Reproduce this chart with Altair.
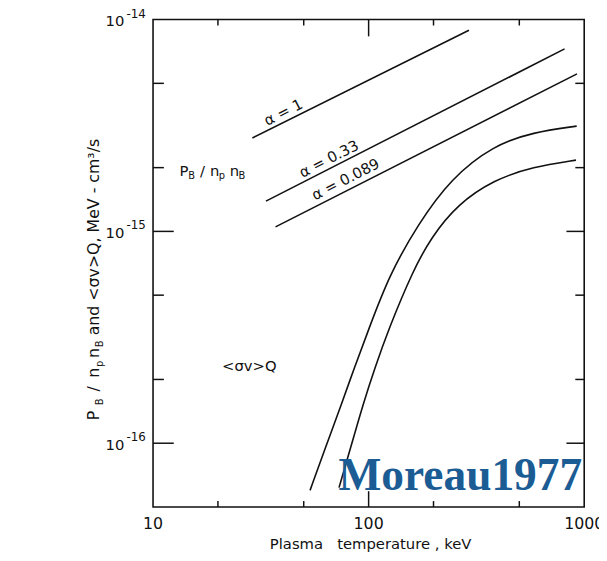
import altair as alt
import pandas as pd

# ---------------- data ----------------
T_alpha1 = [28.9, 292]
V_alpha1 = [2.76e-15, 8.91e-15]
T_alpha033 = [33.4, 811]
V_alpha033 = [1.39e-15, 7.27e-15]
T_alpha0089 = [37.0, 926]
V_alpha0089 = [1.05e-15, 5.54e-15]

T_sv_upper = [53.5, 62.9, 75.5, 85.4, 100, 124.4, 169.4, 241, 380, 580, 923]
V_sv_upper = [5.99e-17, 9.48e-17, 1.565e-16, 2.24e-16, 3.44e-16, 6.20e-16,
              1.08e-15, 1.78e-15, 2.55e-15, 2.94e-15, 3.14e-15]
T_sv_lower = [72.9, 82.4, 94.9, 106.5, 123.5, 160.8, 195, 258, 380, 580, 916]
V_sv_lower = [6.17e-17, 9.48e-17, 1.565e-16, 2.24e-16, 3.44e-16, 6.55e-16,
              9.36e-16, 1.34e-15, 1.75e-15, 2.02e-15, 2.17e-15]

alpha_labels = ["α = 1", "α = 0.33", "α = 0.089"]
alpha_label_T = [40.2, 65.4, 78.2]
alpha_label_V = [3.65e-15, 2.20e-15, 1.76e-15]

x_tick_labels = [10, 100, 1000]
x_tick_texts = ["10", "100", "1000"]
x_minor_ticks = [20, 50, 200, 500]
x_major_ticks = [100]
y_label_values = [1e-14, 1e-15, 1e-16]
y_label_exps = ["-14", "-15", "-16"]
y_minor_ticks = [2e-16, 5e-16, 2e-15, 5e-15]
y_major_ticks = [1e-16, 1e-15]

FONT = "DejaVu Sans"
INK = "#111111"
W, H = 437, 494

xs = alt.Scale(type="log", domain=[10, 1000])
ys = alt.Scale(type="log", domain=[5e-17, 1e-14])


def X():
    return alt.X("T:Q", scale=xs, axis=None)


def Y():
    return alt.Y("V:Q", scale=ys, axis=None)


def curve(T, V, interp="linear"):
    df = pd.DataFrame({"T": T, "V": V})
    return alt.Chart(df).mark_line(color=INK, strokeWidth=1.6,
                                   interpolate=interp).encode(x=X(), y=Y())


l_alpha1 = curve(T_alpha1, V_alpha1)
l_alpha033 = curve(T_alpha033, V_alpha033)
l_alpha0089 = curve(T_alpha0089, V_alpha0089)
l_up = curve(T_sv_upper, V_sv_upper, "basis")
l_lo = curve(T_sv_lower, V_sv_lower, "basis")

# alpha labels
alpha_df = pd.DataFrame({"T": alpha_label_T, "V": alpha_label_V, "lab": alpha_labels})
t_alpha = alt.Chart(alpha_df).mark_text(font=FONT, fontSize=15, angle=333,
                                        color=INK, align="center",
                                        baseline="middle").encode(
    x=X(), y=Y(), text="lab:N")

# P_B / n_p n_B label (anchored in data space)
anchor = pd.DataFrame({"T": [13.25], "V": [1.936e-15]})
pieces = [("P", 0, 0, 15), ("B", 9, 5, 10), ("/", 21, 0, 15), ("n", 31, 0, 15),
          ("p", 40, 5, 10), ("n", 51, 0, 15), ("B", 60, 5, 10)]
pb_layers = []
for txt, dx, dy, fs in pieces:
    pb_layers.append(
        alt.Chart(anchor).mark_text(text=txt, font=FONT, fontSize=fs, dx=dx, dy=dy,
                                    align="left", baseline="middle",
                                    color=INK).encode(x=X(), y=Y()))

sv_df = pd.DataFrame({"T": [20.9], "V": [2.31e-16]})
t_sv = alt.Chart(sv_df).mark_text(text="<σv>Q", font=FONT, fontSize=15,
                                  align="left", baseline="middle",
                                  color=INK).encode(x=X(), y=Y())


# ticks (inward)
def xticks(vals, y1, y2):
    return alt.Chart(pd.DataFrame({"T": vals})).mark_rule(
        color=INK, strokeWidth=1.5).encode(x=X(), y=alt.value(y1), y2=alt.value(y2))


def yticks(vals, x1, x2):
    return alt.Chart(pd.DataFrame({"V": vals})).mark_rule(
        color=INK, strokeWidth=1.5).encode(y=Y(), x=alt.value(x1), x2=alt.value(x2))


ticks = [
    xticks(x_minor_ticks, H, H - 6), xticks(x_minor_ticks, 0, 6),
    xticks(x_major_ticks, H, H - 16), xticks(x_major_ticks, 0, 17),
    yticks(y_minor_ticks, 0, 11), yticks(y_minor_ticks, W, W - 9),
    yticks(y_major_ticks, 0, 21), yticks(y_major_ticks, W, W - 18),
]

# x tick labels and title
xlab_df = pd.DataFrame({"T": x_tick_labels, "t": x_tick_texts})
xlab = alt.Chart(xlab_df).mark_text(font=FONT, fontSize=16, align="center",
                                    baseline="middle", color=INK).encode(
    x=X(), y=alt.value(H + 17), text="t:N")
one = pd.DataFrame({"k": [0]})
xtitle = alt.Chart(one).mark_text(text="Plasma\u00a0\u00a0 temperature , keV", font=FONT,
                                  fontSize=15, align="center", baseline="middle",
                                  color=INK).encode(x=alt.value(W / 2 + 2), y=alt.value(H + 38))

# y tick labels 10^n
ylab_df = pd.DataFrame({"V": y_label_values, "e": y_label_exps})
ylab_base = alt.Chart(ylab_df).mark_text(text="10", font=FONT, fontSize=15, align="right",
                                         baseline="middle", dy=2,
                                         color=INK).encode(y=Y(), x=alt.value(-29))
ylab_exp = alt.Chart(ylab_df).mark_text(font=FONT, fontSize=12, align="left",
                                        baseline="middle", dy=-6,
                                        color=INK).encode(
    y=Y(), x=alt.value(-27), text="e:N")

# rotated y-axis title composed of pieces
title_pieces = [("P", -60, 406, 16), ("B", -54, 391, 10), ("/", -60, 377, 16),
                ("n", -60, 363, 16), ("p", -54, 352, 10), ("n", -60, 343, 16),
                ("B", -54, 332, 10), ("and <σv>Q, MeV - cm³/s", -60, 320, 16)]
title_layers = []
for txt, x, y, fs in title_pieces:
    title_layers.append(
        alt.Chart(one).mark_text(text=txt, font=FONT, fontSize=fs, angle=270,
                                 align="left", baseline="middle",
                                 color=INK).encode(x=alt.value(x), y=alt.value(y)))

moreau = alt.Chart(one).mark_text(text="Moreau1977", font="Liberation Serif",
                                  fontWeight="bold", fontSize=46, color="#1b5c94",
                                  align="left", baseline="alphabetic").encode(
    x=alt.value(188), y=alt.value(477))

chart = alt.layer(
    l_alpha1, l_alpha033, l_alpha0089, l_up, l_lo, t_alpha, *pb_layers, t_sv,
    *ticks, xlab, xtitle, ylab_base, ylab_exp, *title_layers, moreau
).properties(
    width=W, height=H,
    padding={"left": 147, "top": 8, "right": 15, "bottom": 50},
    autosize=alt.AutoSizeParams(type="none"),
    background="white",
).configure_view(stroke=INK, strokeWidth=1.6)

chart.save("out.html", embed_options={"renderer": "svg", "actions": False})
